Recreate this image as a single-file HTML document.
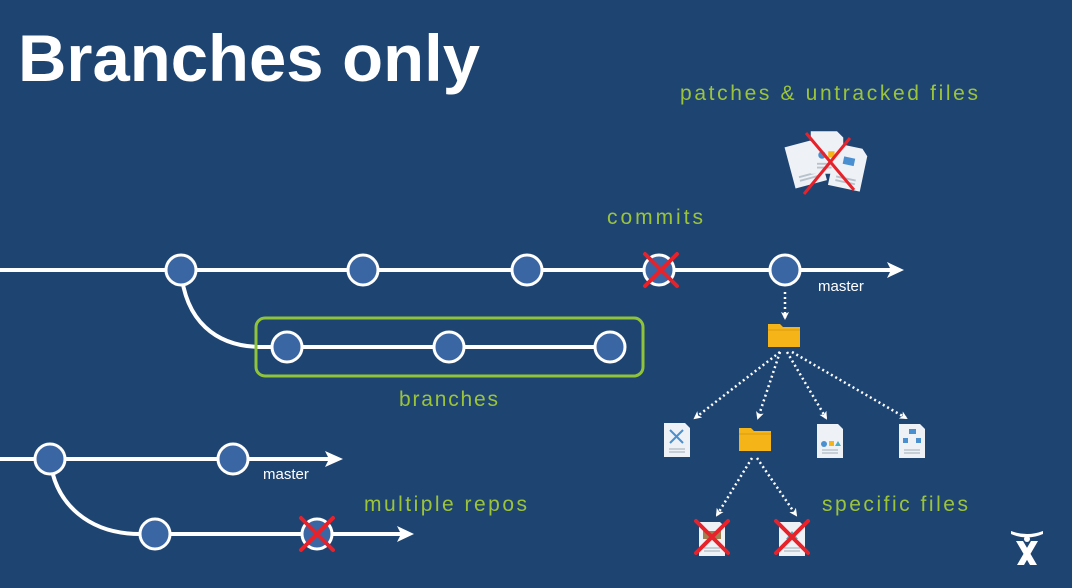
<!DOCTYPE html>
<html><head><style>
html,body{margin:0;padding:0;background:#1e4472;}
svg{display:block}
.h{font-family:"Liberation Sans",sans-serif;fill:#9cc43a;font-size:21px;}
.m{font-family:"Liberation Sans",sans-serif;fill:#fff;font-size:15px;}
</style></head><body>
<svg width="1072" height="588" viewBox="0 0 1072 588">
<defs>
<marker id="a" markerWidth="8" markerHeight="8" refX="6" refY="4" orient="auto" markerUnits="userSpaceOnUse"><path d="M0,0 L8,4 L0,8 L2,4z" fill="#fff"/></marker>
<g id="file"><path d="M-13,-17 H8 L13,-12 V17 H-13z" fill="#eef1f5"/><path d="M-8,9 H8 M-8,12 H8" stroke="#b8c2cc" stroke-width="1.5"/></g>
<g id="fold"><path d="M-16,-12 H-4 L-1,-9 H16 V11 H-16z" fill="#f5b418"/><path d="M-16,-6 H16" stroke="#d99b10" stroke-width="1"/></g>
<g id="x"><path d="M-16,-16 L16,16 M16,-16 L-16,16" stroke="#e8222a" stroke-width="4" stroke-linecap="round"/></g>
</defs>
<rect width="1072" height="588" fill="#1e4472"/>
<text x="18" y="81" font-family="Liberation Sans,sans-serif" font-weight="bold" font-size="66" fill="#fff" textLength="462" lengthAdjust="spacingAndGlyphs">Branches only</text>
<text class="h" x="680" y="100" textLength="298">patches &amp; untracked files</text>
<text class="h" x="607" y="224" textLength="96">commits</text>
<text class="h" x="399" y="406" textLength="99">branches</text>
<text class="h" x="364" y="511" textLength="163">multiple repos</text>
<text class="h" x="822" y="511" textLength="146">specific files</text>
<!-- top file stack -->
<g transform="translate(827,160) scale(1.25)">
<g transform="translate(-17,3) rotate(-15)"><use href="#file"/></g>
<g transform="translate(0,-6)"><use href="#file"/><circle cx="-4" cy="2" r="3" fill="#4a90d0"/><rect x="1" y="-1" width="5" height="5" fill="#f5b418"/></g>
<g transform="translate(17,6) rotate(12)"><use href="#file"/><rect x="-5" y="-8" width="9" height="6" fill="#4a90d0"/></g>
</g>
<g transform="translate(828,160)"><path d="M-22,-27 L26,30 M22,-22 L-24,34" stroke="#e8222a" stroke-width="3"/></g>
<!-- main line -->
<line x1="0" y1="270" x2="898" y2="270" stroke="#fff" stroke-width="4"/>
<path d="M887,262 L904,270 L887,278 L891,270z" fill="#fff"/>
<path d="M181,270 C185,320 215,347 262,347 L610,347" fill="none" stroke="#fff" stroke-width="4"/>
<rect x="256" y="318" width="387" height="58" rx="9" fill="none" stroke="#8fc43a" stroke-width="3"/>
<g fill="#3a66a3" stroke="#fff" stroke-width="3">
<circle cx="181" cy="270" r="15"/><circle cx="363" cy="270" r="15"/><circle cx="527" cy="270" r="15"/><circle cx="659" cy="270" r="15"/><circle cx="785" cy="270" r="15"/>
<circle cx="287" cy="347" r="15"/><circle cx="449" cy="347" r="15"/><circle cx="610" cy="347" r="15"/>
</g>
<g transform="translate(661,270)"><use href="#x"/></g>
<text class="m" x="818" y="291">master</text>
<!-- lower -->
<line x1="0" y1="459" x2="335" y2="459" stroke="#fff" stroke-width="4"/>
<path d="M325,451 L343,459 L325,467 L329,459z" fill="#fff"/>
<path d="M50,459 C55,505 90,534 140,534 L405,534" fill="none" stroke="#fff" stroke-width="4"/>
<path d="M397,526 L414,534 L397,542 L401,534z" fill="#fff"/>
<g fill="#3a66a3" stroke="#fff" stroke-width="3">
<circle cx="155" cy="534" r="15"/><circle cx="233" cy="459" r="15"/><circle cx="50" cy="459" r="15"/><circle cx="317" cy="534" r="15"/>
</g>
<g transform="translate(317,534)"><use href="#x"/></g>
<text class="m" x="263" y="479">master</text>
<!-- tree -->
<g stroke="#fff" stroke-width="2.5" stroke-dasharray="2 3" fill="none" marker-end="url(#a)">
<line x1="785" y1="292" x2="785" y2="318"/>
<line x1="780" y1="352" x2="695" y2="418"/>
<line x1="780" y1="352" x2="758" y2="418"/>
<line x1="787" y1="352" x2="826" y2="418"/>
<line x1="792" y1="352" x2="906" y2="418"/>
<line x1="752" y1="458" x2="717" y2="515"/>
<line x1="757" y1="458" x2="796" y2="515"/>
</g>
<g transform="translate(784,336)"><use href="#fold"/></g>
<g transform="translate(677,440)"><use href="#file"/><path d="M-7,-10 L6,3 M6,-10 L-7,3" stroke="#4a90d0" stroke-width="2"/></g>
<g transform="translate(755,440)"><use href="#fold"/></g>
<g transform="translate(830,441)"><use href="#file"/><circle cx="-6" cy="3" r="3" fill="#4a90d0"/><rect x="-1" y="0" width="5" height="5" fill="#f5b418"/><path d="M5,5 L8,0 L11,5z" fill="#4ab0c0"/></g>
<g transform="translate(912,441)"><use href="#file"/><rect x="-3" y="-12" width="7" height="5" fill="#4a90d0"/><rect x="-9" y="-3" width="5" height="5" fill="#4a90d0"/><rect x="4" y="-3" width="5" height="5" fill="#4a90d0"/></g>
<g transform="translate(712,539)"><use href="#file"/><rect x="-9" y="-8" width="18" height="8" fill="#a08050"/></g>
<g transform="translate(792,539)"><use href="#file"/><path d="M-6,0 L0,-8 L6,0z" fill="#4ab0c0"/></g>
<g transform="translate(712,537)"><use href="#x"/></g>
<g transform="translate(792,537)"><use href="#x"/></g>
<!-- logo -->
<g transform="translate(1027,545)" fill="#fff">
<path d="M-16,-14 Q0,-8 16,-14 L16,-11 Q0,-4 -16,-11z"/>
<path d="M-11,-4 L-4,-4 L10,20 L3,20z"/><path d="M11,-4 L4,-4 L-10,20 L-3,20z"/>
<circle cx="0" cy="-6" r="3"/>
</g>
</svg>
</body></html>
